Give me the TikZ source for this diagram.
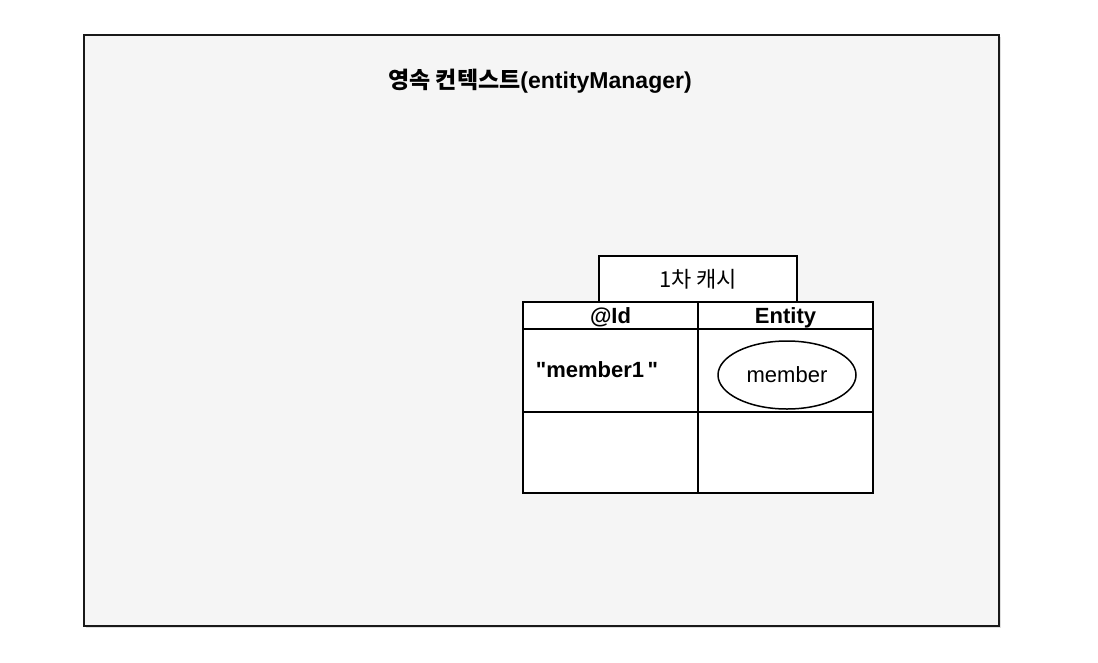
\documentclass[tikz,border=0pt]{standalone}
\usepackage{fontspec}
\setmainfont{Liberation Sans}
\newfontfamily\kr{Noto Sans CJK KR}
\usetikzlibrary{shapes.geometric,shadows}
% straight double quote, set as a glyph so no TeX mapping curls it
\newcommand{\sq}{\XeTeXglyph\XeTeXcharglyph"22\relax}
\begin{document}
\begin{tikzpicture}[x=1pt,y=-1pt,
  font=\fontsize{22}{26}\selectfont,
  context/.style={draw=black!90,line width=2pt,fill=black!4,
    drop shadow={shadow xshift=1.5pt,shadow yshift=-2pt,opacity=0.25},
    minimum width=915pt,minimum height=591pt,inner sep=0pt},
  cell/.style={draw=black,line width=1.5pt,fill=white,inner sep=0pt,
    minimum width=175pt},
  tag/.style={draw=black,line width=1.5pt,fill=white,inner sep=0pt,
    minimum width=198pt,minimum height=46pt},
  lbl/.style={inner sep=0pt,text depth=0pt},
  entry/.style={ellipse,draw=black,line width=1.5pt,fill=white,
    minimum width=138pt,minimum height=68pt,inner sep=0pt}]
  \useasboundingbox (0,0) rectangle (1098,662);

  % persistence context
  \node[context] (ctx) at (541.5,330.5) {};
  \node[lbl,font=\fontsize{23}{27}\selectfont\bfseries] (title) at (540,79)
    {{\kr 영속 컨텍스트}(entityManager)};

  % first-level cache
  \node[tag] (cache) at (698,279) {\kr 1차 캐시};
  \node[cell,minimum height=27pt] (hid) at (610.5,315.5) {};
  \node[cell,minimum height=27pt] (hent) at (785.5,315.5) {};
  \node[cell,minimum height=83pt] (rid) at (610.5,370.5) {};
  \node[cell,minimum height=83pt] (rent) at (785.5,370.5) {};
  \node[cell,minimum height=81pt] (eid) at (610.5,452.5) {};
  \node[cell,minimum height=81pt] (eent) at (785.5,452.5) {};

  \node[lbl,font=\fontsize{22}{26}\selectfont\bfseries] (hidt) at (hid) {@Id};
  \node[lbl,font=\fontsize{22}{26}\selectfont\bfseries] (hentt) at (hent) {Entity};
  \node[lbl,font=\fontsize{22}{26}\selectfont\bfseries] (key) at (597,370) {\sq member1\,\sq};
  \node[entry] (member) at (787,375) {member};
\end{tikzpicture}
\end{document}
